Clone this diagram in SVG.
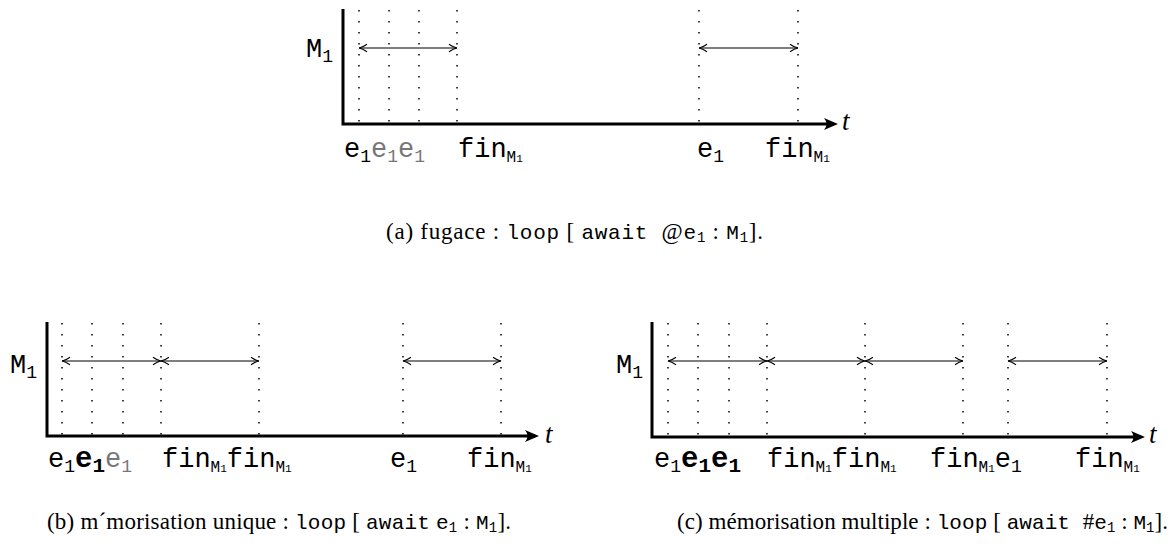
<svg xmlns="http://www.w3.org/2000/svg" width="1176" height="547" viewBox="0 0 1176 547">
<style>
.ax{stroke:#000;stroke-width:3;fill:none}
.dot{stroke:#000;stroke-width:1.5;stroke-dasharray:1.5 9.5;fill:none}
.iv{stroke:#000;stroke-width:1.2;fill:none;marker-start:url(#sh);marker-end:url(#sh)}
.tt{font-family:"Liberation Mono","DejaVu Sans Mono",monospace;font-size:27px;fill:#000}
.sub{font-size:18px}
.subs{font-size:16px}
.subt{font-size:11px}
.g{fill:#777}
.b{font-weight:bold;font-size:29px}
.bs{font-weight:bold;font-size:21px}
.t{font-family:"Liberation Serif","DejaVu Serif",serif;font-style:italic;font-size:27px}
.cap{font-family:"Liberation Serif","DejaVu Serif",serif;font-size:23px;fill:#000}
.cm{font-family:"Liberation Mono","DejaVu Sans Mono",monospace;font-size:21px}
.cs{font-size:14px}
</style>
<defs>
<marker id="ah" markerUnits="userSpaceOnUse" markerWidth="20" markerHeight="14" refX="0" refY="0" viewBox="-14 -7 20 14" orient="auto" overflow="visible">
<path d="M4,0 L-10,-6 Q-5,0 -10,6 Z" fill="#000"/>
</marker>
<marker id="sh" markerUnits="userSpaceOnUse" markerWidth="10" markerHeight="10" viewBox="-8 -5 10 10" refX="0" refY="0" orient="auto-start-reverse" overflow="visible">
<path d="M-8,-3.8 Q-3.5,-0.6 0,0 Q-3.5,0.6 -8,3.8" stroke="#000" stroke-width="1.1" fill="none"/>
</marker>
</defs>

<g id="diagram-a">
<path class="ax" d="M343,9 V124 H834" marker-end="url(#ah)"/>
<g id="dots-a">
<line class="dot" x1="359" y1="10" x2="359" y2="123"/>
<line class="dot" x1="389" y1="10" x2="389" y2="123"/>
<line class="dot" x1="419" y1="10" x2="419" y2="123"/>
<line class="dot" x1="457" y1="10" x2="457" y2="123"/>
<line class="dot" x1="699" y1="10" x2="699" y2="123"/>
<line class="dot" x1="798" y1="10" x2="798" y2="123"/>
</g>
<g id="intervals-a">
<line class="iv" x1="359" y1="48" x2="457" y2="48"/>
<line class="iv" x1="699" y1="48" x2="798" y2="48"/>
</g>
<text class="tt" x="306" y="57">M<tspan class="sub" dy="5">1</tspan></text>
<text class="t" x="842" y="130">t</text>
<text class="tt" x="344" y="157">e<tspan class="sub" dy="5">1</tspan><tspan class="g" dy="-5">e</tspan><tspan class="g sub" dy="5">1</tspan><tspan class="g" dy="-5">e</tspan><tspan class="g sub" dy="5">1</tspan></text>
<text class="tt" x="458" y="157">fin<tspan class="subs" dy="5">M</tspan><tspan class="subt" dy="0">1</tspan></text>
<text class="tt" x="697" y="157">e<tspan class="sub" dy="5">1</tspan></text>
<text class="tt" x="765" y="157">fin<tspan class="subs" dy="5">M</tspan><tspan class="subt">1</tspan></text>
</g>

<g id="caption-a">
<text class="cap" x="386" y="239" textLength="377">(a) fugace : <tspan class="cm">loop</tspan> [ <tspan class="cm">await </tspan>@<tspan class="cm">e</tspan><tspan class="cm cs" dy="3">1</tspan><tspan dy="-3"> : </tspan><tspan class="cm">M</tspan><tspan class="cm cs" dy="3">1</tspan><tspan dy="-3">].</tspan></text>
</g>

<g id="diagram-b">
<path class="ax" d="M47,322 V436 H535" marker-end="url(#ah)"/>
<g id="dots-b">
<line class="dot" x1="62" y1="323" x2="62" y2="435"/>
<line class="dot" x1="92" y1="323" x2="92" y2="435"/>
<line class="dot" x1="123" y1="323" x2="123" y2="435"/>
<line class="dot" x1="161" y1="323" x2="161" y2="435"/>
<line class="dot" x1="259" y1="323" x2="259" y2="435"/>
<line class="dot" x1="403" y1="323" x2="403" y2="435"/>
<line class="dot" x1="501" y1="323" x2="501" y2="435"/>
</g>
<g id="intervals-b">
<line class="iv" x1="62" y1="361" x2="161" y2="361"/>
<line class="iv" x1="161" y1="361" x2="259" y2="361"/>
<line class="iv" x1="403" y1="361" x2="501" y2="361"/>
</g>
<text class="tt" x="10" y="373">M<tspan class="sub" dy="5">1</tspan></text>
<text class="t" x="545" y="443">t</text>
<text class="tt" x="48" y="467">e<tspan class="sub" dy="5">1</tspan><tspan class="b" dy="-5">e</tspan><tspan class="bs" dy="5">1</tspan><tspan class="g" dy="-5">e</tspan><tspan class="g sub" dy="5">1</tspan></text>
<text class="tt" x="162" y="467">fin<tspan class="subs" dy="5">M</tspan><tspan class="subt">1</tspan><tspan dy="-5">fin</tspan><tspan class="subs" dy="5">M</tspan><tspan class="subt">1</tspan></text>
<text class="tt" x="390" y="467">e<tspan class="sub" dy="5">1</tspan></text>
<text class="tt" x="467" y="467">fin<tspan class="subs" dy="5">M</tspan><tspan class="subt">1</tspan></text>
</g>

<g id="caption-b">
<text class="cap" x="47" y="529" textLength="464">(b) m´morisation unique : <tspan class="cm">loop</tspan> [ <tspan class="cm">await</tspan> <tspan class="cm">e</tspan><tspan class="cm cs" dy="3">1</tspan><tspan dy="-3"> : </tspan><tspan class="cm">M</tspan><tspan class="cm cs" dy="3">1</tspan><tspan dy="-3">].</tspan></text>
</g>

<g id="diagram-c">
<path class="ax" d="M652,322 V437 H1141" marker-end="url(#ah)"/>
<g id="dots-c">
<line class="dot" x1="668" y1="323" x2="668" y2="436"/>
<line class="dot" x1="698" y1="323" x2="698" y2="436"/>
<line class="dot" x1="729" y1="323" x2="729" y2="436"/>
<line class="dot" x1="767" y1="323" x2="767" y2="436"/>
<line class="dot" x1="865" y1="323" x2="865" y2="436"/>
<line class="dot" x1="963" y1="323" x2="963" y2="436"/>
<line class="dot" x1="1008" y1="323" x2="1008" y2="436"/>
<line class="dot" x1="1107" y1="323" x2="1107" y2="436"/>
</g>
<g id="intervals-c">
<line class="iv" x1="668" y1="361" x2="767" y2="361"/>
<line class="iv" x1="767" y1="361" x2="865" y2="361"/>
<line class="iv" x1="865" y1="361" x2="963" y2="361"/>
<line class="iv" x1="1008" y1="361" x2="1107" y2="361"/>
</g>
<text class="tt" x="616" y="373">M<tspan class="sub" dy="5">1</tspan></text>
<text class="t" x="1149" y="443">t</text>
<text class="tt" x="654" y="467">e<tspan class="sub" dy="5">1</tspan><tspan class="b" dy="-5">e</tspan><tspan class="bs" dy="5">1</tspan><tspan class="b" dy="-5">e</tspan><tspan class="bs" dy="5">1</tspan></text>
<text class="tt" x="767" y="467">fin<tspan class="subs" dy="5">M</tspan><tspan class="subt">1</tspan><tspan dy="-5">fin</tspan><tspan class="subs" dy="5">M</tspan><tspan class="subt">1</tspan></text>
<text class="tt" x="930" y="467">fin<tspan class="subs" dy="5">M</tspan><tspan class="subt">1</tspan><tspan dy="-5">e</tspan><tspan class="sub" dy="5">1</tspan></text>
<text class="tt" x="1075" y="467">fin<tspan class="subs" dy="5">M</tspan><tspan class="subt">1</tspan></text>
</g>

<g id="caption-c">
<text class="cap" x="677" y="529" textLength="491">(c) mémorisation multiple : <tspan class="cm">loop</tspan> [ <tspan class="cm">await </tspan>#<tspan class="cm">e</tspan><tspan class="cm cs" dy="3">1</tspan><tspan dy="-3"> : </tspan><tspan class="cm">M</tspan><tspan class="cm cs" dy="3">1</tspan><tspan dy="-3">].</tspan></text>
</g>
</svg>
